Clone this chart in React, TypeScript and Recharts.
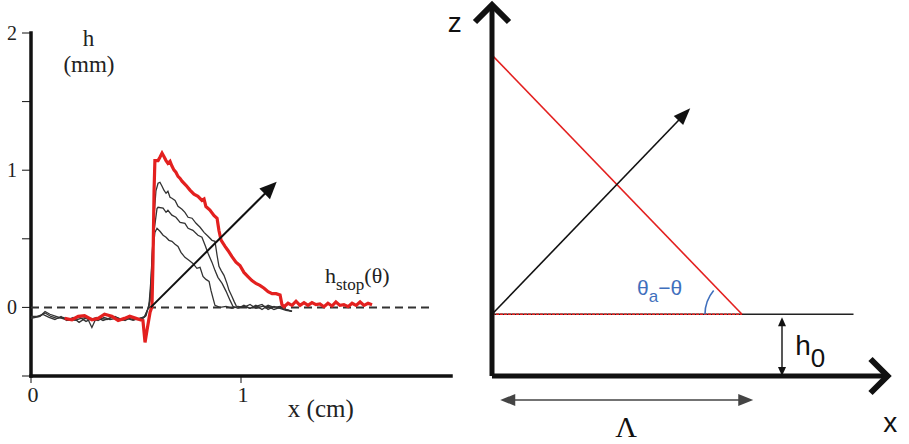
import { LineChart, Line, XAxis, YAxis, ReferenceLine, ReferenceDot } from 'recharts'

const SERIF = '"Liberation Serif", "Times New Roman", serif'
const SANS = '"Liberation Sans", Arial, sans-serif'

// ---- left panel: measured profiles, x in cm, h in mm ----
const X_TICKS = [0, 1]
const H_TICKS = [-0.5, 0, 0.5, 1, 1.5, 2]
const X_MAX = 2
const H_MIN = -0.5
const H_MAX = 2

const finalProfile = [
    [0.16, -0.08], [0.195, -0.09], [0.225, -0.065], [0.255, -0.06], [0.29, -0.09], [0.32, -0.08],
    [0.35, -0.05], [0.385, -0.065], [0.415, -0.095], [0.445, -0.08], [0.47, -0.065], [0.5, -0.08],
    [0.52, -0.09], [0.533, -0.095], [0.543, -0.255], [0.552, -0.17], [0.567, -0.035], [0.576, 0.005],
    [0.581, 0.34], [0.586, 0.85], [0.59, 1.07], [0.605, 1.07], [0.614, 1.095], [0.624, 1.125],
    [0.633, 1.1], [0.643, 1.07], [0.652, 1.05], [0.662, 1.065], [0.671, 1.03], [0.681, 1.0],
    [0.69, 0.985], [0.7, 0.955], [0.71, 0.94], [0.719, 0.92], [0.738, 0.89], [0.757, 0.855],
    [0.776, 0.825], [0.795, 0.81], [0.814, 0.78], [0.824, 0.79], [0.833, 0.735], [0.852, 0.71],
    [0.871, 0.67], [0.886, 0.65], [0.895, 0.56], [0.905, 0.49], [0.924, 0.445], [0.938, 0.415],
    [0.957, 0.37], [0.976, 0.33], [0.995, 0.305], [1.014, 0.255], [1.033, 0.225], [1.052, 0.195],
    [1.071, 0.175], [1.09, 0.16], [1.11, 0.14], [1.129, 0.115], [1.148, 0.1], [1.167, 0.1],
    [1.186, 0.09], [1.195, 0.02], [1.205, 0.005], [1.224, 0.03], [1.243, 0.015], [1.262, 0.045],
    [1.281, 0.015], [1.3, 0.035], [1.319, 0.015], [1.338, 0.035], [1.357, 0.02], [1.376, 0.025],
    [1.395, 0.005], [1.414, 0.03], [1.433, 0.01], [1.452, 0.04], [1.471, 0.015], [1.49, 0.02],
    [1.51, 0.005], [1.529, 0.03], [1.548, 0.015], [1.567, 0.04], [1.586, 0.015], [1.605, 0.03],
    [1.624, 0.02],
]

const profileA = [
    [0.0, -0.08], [0.043, -0.065], [0.067, -0.03], [0.09, -0.05], [0.119, -0.065], [0.148, -0.08],
    [0.176, -0.095], [0.205, -0.08], [0.233, -0.073], [0.262, -0.102], [0.29, -0.08], [0.319, -0.095],
    [0.348, -0.073], [0.376, -0.088], [0.405, -0.08], [0.433, -0.095], [0.462, -0.08], [0.49, -0.088],
    [0.519, -0.08], [0.543, -0.066], [0.557, -0.007], [0.567, 0.05], [0.576, 0.33], [0.586, 0.67],
    [0.595, 0.85], [0.605, 0.905], [0.614, 0.912], [0.624, 0.883], [0.633, 0.854], [0.643, 0.832],
    [0.652, 0.847], [0.662, 0.803], [0.671, 0.796], [0.686, 0.78], [0.7, 0.737], [0.719, 0.715],
    [0.733, 0.693], [0.748, 0.657], [0.767, 0.65], [0.786, 0.613], [0.805, 0.584], [0.824, 0.547],
    [0.843, 0.518], [0.862, 0.489], [0.876, 0.482], [0.886, 0.38], [0.895, 0.3], [0.905, 0.27],
    [0.919, 0.234], [0.933, 0.175], [0.943, 0.124], [0.957, 0.08], [0.967, 0.044], [0.976, 0.015],
    [0.986, 0.0], [1.014, 0.007], [1.043, -0.007], [1.071, 0.015], [1.1, -0.015], [1.129, 0.015],
    [1.157, 0.0], [1.186, 0.007], [1.214, -0.015], [1.243, -0.029],
]

const profileB = [
    [0.0, -0.073], [0.038, -0.066], [0.067, -0.04], [0.095, -0.066], [0.124, -0.08], [0.152, -0.073],
    [0.181, -0.088], [0.21, -0.095], [0.238, -0.08], [0.267, -0.073], [0.29, -0.146], [0.305, -0.095],
    [0.333, -0.08], [0.362, -0.088], [0.39, -0.066], [0.419, -0.08], [0.448, -0.095], [0.476, -0.073],
    [0.505, -0.088], [0.533, -0.08], [0.548, -0.06], [0.562, 0.02], [0.571, 0.2], [0.581, 0.5],
    [0.6, 0.72], [0.605, 0.73], [0.629, 0.723], [0.643, 0.693], [0.652, 0.708], [0.671, 0.672],
    [0.69, 0.657], [0.71, 0.62], [0.733, 0.613], [0.748, 0.577], [0.771, 0.562], [0.795, 0.526],
    [0.814, 0.511], [0.829, 0.453], [0.843, 0.394], [0.862, 0.328], [0.876, 0.27], [0.89, 0.219],
    [0.91, 0.175], [0.929, 0.117], [0.948, 0.051], [0.962, 0.007], [0.986, -0.007], [1.014, 0.015],
    [1.043, -0.007], [1.071, 0.007], [1.1, 0.022], [1.129, -0.015], [1.157, 0.007], [1.186, -0.007],
    [1.214, -0.022], [1.243, -0.029],
]

const profileC = [
    [0.0, -0.066], [0.029, -0.066], [0.057, -0.051], [0.086, -0.073], [0.114, -0.088], [0.143, -0.066],
    [0.171, -0.095], [0.2, -0.073], [0.229, -0.109], [0.257, -0.08], [0.286, -0.088], [0.314, -0.073],
    [0.343, -0.095], [0.371, -0.08], [0.4, -0.066], [0.429, -0.088], [0.457, -0.08], [0.486, -0.095],
    [0.514, -0.08], [0.538, -0.073], [0.562, 0.007], [0.571, 0.124], [0.581, 0.416], [0.59, 0.547],
    [0.6, 0.577], [0.614, 0.555], [0.629, 0.526], [0.643, 0.511], [0.657, 0.489], [0.671, 0.482],
    [0.686, 0.46], [0.7, 0.445], [0.714, 0.401], [0.733, 0.365], [0.752, 0.343], [0.771, 0.321],
    [0.79, 0.285], [0.805, 0.292], [0.819, 0.226], [0.833, 0.204], [0.848, 0.19], [0.857, 0.124],
    [0.867, 0.066], [0.876, 0.015], [0.9, 0.0], [0.929, 0.007], [0.957, -0.007], [0.986, 0.007],
    [1.014, 0.0], [1.043, 0.022], [1.071, -0.007], [1.1, 0.007], [1.129, 0.007], [1.157, -0.015],
    [1.186, 0.0], [1.214, -0.015], [1.243, -0.029],
]

// growth direction arrow drawn over the profiles
const GROWTH_FROM = [0.57, 0]
const GROWTH_TO = [1.17, 0.915]
const ZERO_LINE_END = 1.91

// ---- right panel: wedge sketch, lengths in units of Λ ----
const LAMBDA = 1
const H0 = 0.247
const WEDGE_TOP = 1.284
const FLAT_END = 1.446
const Z_AXIS_TOP = 1.484
const X_AXIS_END = 1.582
const SKETCH_ARROW_TIP = [0.793, 1.071]
const H0_MARK_X = 1.16
const LAMBDA_MARK_Z = -0.096
const LAMBDA_MARK = [0.033, 1.045]

const toPoints = (rows: number[][]) => rows.map(([x, h]) => ({ x, h }))

type HeadKind = 'tri' | 'chevron' | 'none'
interface ArrowOpts {
    color: string
    width: number
    head: HeadKind
    len?: number
    half?: number
    both?: boolean
}

const makeArrow = ({ color, width, head, len = 0, half = 0, both }: ArrowOpts) => (props: any) => {
    const { x1, y1, x2, y2 } = props
    if (![x1, y1, x2, y2].every(Number.isFinite)) return <g />
    const a = Math.atan2(y2 - y1, x2 - x1)
    const cos = Math.cos(a)
    const sin = Math.sin(a)

    const drawHead = (tx: number, ty: number, dir: number, key: string) => {
        const c = Math.cos(dir)
        const s = Math.sin(dir)
        if (head === 'none') return null
        if (head === 'chevron') {
            const l1 = [tx - len * c + half * s, ty - len * s - half * c]
            const l2 = [tx - len * c - half * s, ty - len * s + half * c]
            return (
                <polyline
                    key={key}
                    points={`${l1[0]},${l1[1]} ${tx},${ty} ${l2[0]},${l2[1]}`}
                    fill="none"
                    stroke={color}
                    strokeWidth={width + 1}
                    strokeLinejoin="miter"
                />
            )
        }
        const bx = tx - len * c
        const by = ty - len * s
        return (
            <polygon
                key={key}
                points={`${tx},${ty} ${bx - half * s},${by + half * c} ${bx + half * s},${by - half * c}`}
                fill={color}
            />
        )
    }

    const cut = head === 'tri' ? len * 0.8 : 0
    const sx = both ? x1 + cut * cos : x1
    const sy = both ? y1 + cut * sin : y1
    return (
        <g>
            <line
                x1={sx}
                y1={sy}
                x2={x2 - cut * cos}
                y2={y2 - cut * sin}
                stroke={color}
                strokeWidth={width}
                strokeLinecap={head === 'none' ? 'square' : 'butt'}
            />
            {drawHead(x2, y2, a, 'end')}
            {both && drawHead(x1, y1, a + Math.PI, 'start')}
        </g>
    )
}

const HTick = ({ x, y, payload }: any) =>
    Number.isInteger(payload.value) ? (
        <text x={x} y={y + 7} textAnchor="end" fontSize={20} fontFamily={SERIF} fill="#222">
            {payload.value}
        </text>
    ) : (
        <g />
    )

const XTick = ({ x, y, payload }: any) => (
    <text x={x + 2} y={y + 17} textAnchor="middle" fontSize={22} fontFamily={SERIF} fill="#222">
        {payload.value}
    </text>
)

const textAt = (content: React.ReactNode, anchor: 'start' | 'middle' | 'end', style: any) => (p: any) => (
    <text x={p.cx} y={p.cy} textAnchor={anchor} {...style}>
        {content}
    </text>
)

const ProfilesPanel = () => {
    const serif = { fontFamily: SERIF, fontSize: 24, fill: '#222' }
    const axisStroke = makeArrow({ color: '#111', width: 3.5, head: 'none' })
    return (
        <LineChart width={455} height={444} margin={{ top: 33, right: 4, left: 0, bottom: 0 }}>
            <XAxis
                type="number"
                dataKey="x"
                domain={[0, X_MAX]}
                ticks={X_TICKS}
                height={68}
                tickSize={7}
                tickMargin={2}
                tick={<XTick />}
                axisLine={false}
                stroke="#111"
                allowDataOverflow
            />
            <YAxis
                type="number"
                domain={[H_MIN, H_MAX]}
                ticks={H_TICKS}
                width={31}
                tickSize={9}
                tickMargin={5}
                tick={<HTick />}
                axisLine={false}
                stroke="#111"
                allowDataOverflow
            />
            <ReferenceLine
                segment={[{ x: 0, y: H_MIN }, { x: 0, y: H_MAX }]}
                ifOverflow="visible"
                shape={axisStroke}
            />
            <ReferenceLine
                segment={[{ x: 0, y: H_MIN }, { x: X_MAX, y: H_MIN }]}
                ifOverflow="visible"
                shape={axisStroke}
            />
            <ReferenceLine
                segment={[{ x: 0, y: 0 }, { x: ZERO_LINE_END, y: 0 }]}
                stroke="#333"
                strokeWidth={2}
                strokeDasharray="8 5"
            />
            {[profileA, profileB, profileC].map((rows, i) => (
                <Line
                    key={i}
                    data={toPoints(rows)}
                    dataKey="h"
                    type="linear"
                    stroke="#333"
                    strokeWidth={1.3}
                    dot={false}
                    isAnimationActive={false}
                />
            ))}
            <Line
                data={toPoints(finalProfile)}
                dataKey="h"
                type="linear"
                stroke="#e3201f"
                strokeWidth={3.2}
                dot={false}
                isAnimationActive={false}
            />
            <ReferenceLine
                segment={[
                    { x: GROWTH_FROM[0], y: GROWTH_FROM[1] },
                    { x: GROWTH_TO[0], y: GROWTH_TO[1] },
                ]}
                shape={makeArrow({ color: '#111', width: 2, head: 'tri', len: 17, half: 7.5 })}
            />
            <ReferenceDot x={0.274} y={1.905} ifOverflow="visible" shape={textAt('h', 'middle', { ...serif, fontSize: 23 })} />
            <ReferenceDot x={0.276} y={1.715} ifOverflow="visible" shape={textAt('(mm)', 'middle', { ...serif, fontSize: 23 })} />
            <ReferenceDot
                x={1.4}
                y={0.175}
                ifOverflow="visible"
                shape={textAt(
                    <>
                        h
                        <tspan fontSize={17} dy={7}>
                            stop
                        </tspan>
                        <tspan dy={-7}>(θ)</tspan>
                    </>,
                    'start',
                    { ...serif, fontSize: 22 }
                )}
            />
            <ReferenceDot x={1.38} y={-0.8} ifOverflow="visible" shape={textAt('x (cm)', 'middle', { ...serif, fontSize: 25 })} />
        </LineChart>
    )
}

const SketchPanel = () => {
    const sans = { fontFamily: SANS, fill: '#111' }
    const wedge = [
        { x: 0, z: WEDGE_TOP },
        { x: LAMBDA, z: H0 },
    ]
    const level = [
        { x: 0, z: H0 },
        { x: FLAT_END, z: H0 },
    ]
    const flatPart = [
        { x: 0, z: H0 },
        { x: LAMBDA, z: H0 },
    ]
    const axisArrow = makeArrow({ color: '#111', width: 5, head: 'chevron', len: 17, half: 17 })
    return (
        <LineChart width={469} height={444} margin={{ top: 1, right: 17, left: 52, bottom: 68 }}>
            <XAxis type="number" dataKey="x" domain={[0, 1.6]} hide allowDataOverflow />
            <YAxis type="number" dataKey="z" domain={[0, 1.5]} hide allowDataOverflow />
            <Line data={level} dataKey="z" type="linear" stroke="#222" strokeWidth={1.6} dot={false} isAnimationActive={false} />
            <Line
                data={flatPart}
                dataKey="z"
                type="linear"
                stroke="#e3201f"
                strokeWidth={1.6}
                strokeDasharray="3 1"
                dot={false}
                isAnimationActive={false}
            />
            <Line data={wedge} dataKey="z" type="linear" stroke="#e3201f" strokeWidth={1.6} dot={false} isAnimationActive={false} />
            <ReferenceLine
                segment={[{ x: 0, y: 0 }, { x: 0, y: Z_AXIS_TOP }]}
                ifOverflow="visible"
                shape={axisArrow}
            />
            <ReferenceLine
                segment={[{ x: 0, y: 0 }, { x: X_AXIS_END, y: 0 }]}
                ifOverflow="visible"
                shape={axisArrow}
            />
            <ReferenceLine
                segment={[
                    { x: 0, y: H0 },
                    { x: SKETCH_ARROW_TIP[0], y: SKETCH_ARROW_TIP[1] },
                ]}
                shape={makeArrow({ color: '#111', width: 1.6, head: 'tri', len: 17, half: 6.5 })}
            />
            <ReferenceLine
                segment={[
                    { x: H0_MARK_X, y: 0 },
                    { x: H0_MARK_X, y: H0 - 0.012 },
                ]}
                ifOverflow="visible"
                shape={makeArrow({ color: '#111', width: 1.4, head: 'tri', len: 9, half: 4, both: true })}
            />
            <ReferenceLine
                segment={[
                    { x: LAMBDA_MARK[0], y: LAMBDA_MARK_Z },
                    { x: LAMBDA_MARK[1], y: LAMBDA_MARK_Z },
                ]}
                ifOverflow="visible"
                shape={makeArrow({ color: '#444', width: 1.5, head: 'tri', len: 15, half: 6, both: true })}
            />
            <ReferenceDot
                x={LAMBDA}
                y={H0}
                ifOverflow="visible"
                shape={(p: any) => {
                    const r = 37
                    const end = (140 * Math.PI) / 180
                    const ex = p.cx + r * Math.cos(end)
                    const ey = p.cy - r * Math.sin(end)
                    return <path d={`M ${p.cx - r} ${p.cy} A ${r} ${r} 0 0 1 ${ex} ${ey}`} fill="none" stroke="#3f6fbd" strokeWidth={1.6} />
                }}
            />
            <ReferenceDot
                x={0.58}
                y={0.324}
                ifOverflow="visible"
                shape={textAt(
                    <>
                        θ
                        <tspan fontSize={17} dy={7}>
                            a
                        </tspan>
                        <tspan dy={-7}>−θ</tspan>
                    </>,
                    'start',
                    { fontFamily: SANS, fontSize: 21, fill: '#3f6fbd' }
                )}
            />
            <ReferenceDot
                x={1.213}
                y={0.084}
                ifOverflow="visible"
                shape={textAt(
                    <>
                        h
                        <tspan fontSize={26} dy={12}>
                            0
                        </tspan>
                    </>,
                    'start',
                    { ...sans, fontSize: 28 }
                )}
            />
            <ReferenceDot x={0.537} y={-0.244} ifOverflow="visible" shape={textAt('Λ', 'middle', { fontFamily: SERIF, fontSize: 30, fill: '#111' })} />
            <ReferenceDot x={-0.149} y={1.376} ifOverflow="visible" shape={textAt('z', 'middle', { ...sans, fontSize: 28 })} />
            <ReferenceDot x={1.593} y={-0.224} ifOverflow="visible" shape={textAt('x', 'middle', { ...sans, fontSize: 28 })} />
        </LineChart>
    )
}

export default function App() {
    return (
        <div style={{ position: 'absolute', left: 0, top: 0, width: 909, height: 444, background: '#fff' }}>
            <div style={{ position: 'absolute', left: 0, top: 0 }}>
                <ProfilesPanel />
            </div>
            <div style={{ position: 'absolute', left: 440, top: 0 }}>
                <SketchPanel />
            </div>
        </div>
    )
}
